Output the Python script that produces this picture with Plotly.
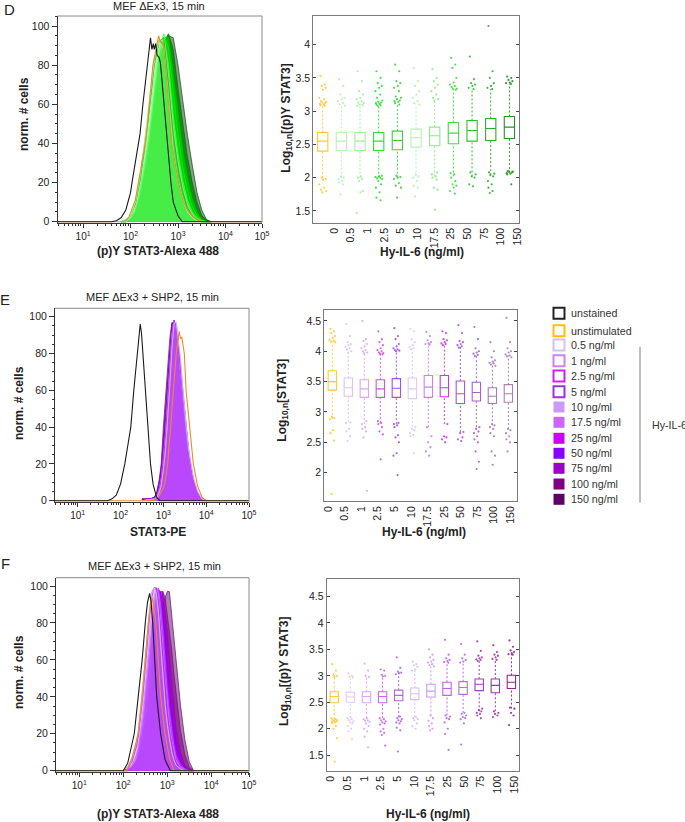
import numpy as np
import plotly.graph_objects as go

W, H = 685, 822
DOSES = ["0.5", "1", "2.5", "5", "10", "17.5", "25", "50", "75", "100", "150"]
TICK_LABELS = ["0"] + DOSES

# ---- histograms: x = log10 intensity, y = norm. # cells
D_BLACK_X = [0.46, 1.6, 1.7, 1.8, 1.9, 2.0, 2.03, 2.1, 2.17, 2.2, 2.26, 2.3, 2.35, 2.4, 2.42, 2.45, 2.48, 2.5, 2.53, 2.56, 2.6, 2.63, 2.66, 2.71, 2.77, 2.85, 2.9, 3.0, 3.09, 3.2, 4.77]
D_BLACK_Y = [0, 0, 0.5, 2, 6, 15, 20, 30, 40, 45, 60, 68, 80, 90, 94, 88, 91, 88, 91, 85, 84, 81, 72, 60, 40, 20, 10, 3, 0, 0, 0]
D_ORANGE_X = [0.46, 1.8, 1.9, 1.96, 2.1, 2.17, 2.25, 2.31, 2.36, 2.4, 2.47, 2.52, 2.55, 2.59, 2.63, 2.69, 2.75, 2.8, 2.87, 2.95, 3.01, 3.1, 3.2, 3.3, 3.4, 3.5, 4.77]
D_ORANGE_Y = [0, 0, 0.5, 2, 11, 20, 31, 40, 50, 60, 80, 86, 90, 95, 92, 90, 75, 60, 40, 28, 20, 11, 6, 3, 1, 0, 0]
D_GRID = [1.8, 1.9, 2.0, 2.1, 2.2, 2.3, 2.4, 2.5, 2.6, 2.7, 2.8, 2.9, 3.0, 3.1, 3.2, 3.3, 3.4, 3.5, 3.6, 3.7]
D_CURVES = [
    [0, 1, 3, 10, 24, 42, 63, 84, 92, 88, 62, 36, 21, 11, 5, 2, 0.5, 0, 0, 0],
    [0, 1, 3, 10, 23, 41, 62, 83, 93, 89, 64, 38, 22, 12, 5, 2, 0.5, 0, 0, 0],
    [0, 1, 3, 9, 22, 40, 60, 82, 93, 91, 66, 40, 24, 13, 6, 2, 1, 0, 0, 0],
    [0, 1, 3, 9, 21, 38, 58, 80, 92, 94, 70, 44, 27, 15, 7, 3, 1, 0, 0, 0],
    [0, 0, 2, 8, 20, 36, 55, 78, 91, 95, 75, 49, 31, 18, 9, 4, 1, 0, 0, 0],
    [0, 0, 2, 7, 18, 34, 52, 74, 90, 96, 80, 54, 35, 21, 11, 5, 2, 0.5, 0, 0],
    [0, 0, 2, 6, 16, 30, 47, 68, 87, 96, 89, 66, 45, 28, 16, 8, 3, 1, 0, 0],
    [0, 0, 2, 5, 14, 27, 43, 63, 84, 94, 94, 75, 54, 36, 22, 12, 5, 1, 0, 0],
    [0, 0, 1, 5, 12, 24, 39, 58, 80, 92, 96, 83, 62, 44, 28, 16, 7, 2, 0, 0],
    [0, 0, 1, 4, 11, 22, 36, 54, 76, 91, 96, 88, 68, 50, 33, 20, 10, 3, 1, 0],
    [0, 0, 1, 4, 10, 20, 33, 49, 72, 90, 95, 94, 80, 62, 44, 29, 15, 6, 1, 0],
]

E_BLACK_X = [0.47, 1.7, 1.8, 1.9, 2.0, 2.1, 2.17, 2.24, 2.31, 2.39, 2.43, 2.46, 2.49, 2.52, 2.58, 2.64, 2.7, 2.76, 2.84, 2.92, 5.0]
E_BLACK_Y = [0, 0, 1, 3, 9, 20, 30, 40, 60, 80, 92, 96, 91, 80, 60, 40, 20, 9, 2, 0, 0]
E_ORANGE_X = [0.47, 2.7, 2.85, 3.0, 3.04, 3.1, 3.17, 3.23, 3.3, 3.37, 3.4, 3.43, 3.49, 3.53, 3.61, 3.7, 3.8, 3.9, 4.0, 5.0]
E_ORANGE_Y = [0, 0, 0.5, 7, 10, 20, 40, 60, 80, 92, 88, 89, 80, 60, 40, 20, 8, 2, 0, 0]
E_GRID = [2.5, 2.7, 2.8, 2.85, 2.9, 2.95, 3.0, 3.05, 3.1, 3.15, 3.2, 3.25, 3.3, 3.35, 3.4, 3.45, 3.5, 3.55, 3.6, 3.7, 3.8, 3.9, 4.0]
E_CURVES = [
    [0, 0.5, 1, 2, 4, 8, 16, 27, 42, 62, 82, 96, 97, 88, 78, 63, 49, 37, 27, 13, 5, 1, 0],
    [0, 0.5, 1, 2, 5, 9, 18, 29, 45, 65, 84, 97, 97, 87, 76, 61, 47, 35, 26, 12, 5, 1, 0],
    [0, 0.5, 1, 3, 5, 10, 19, 31, 48, 67, 86, 97, 96, 86, 74, 60, 46, 35, 25, 12, 4, 1, 0],
    [0, 0.5, 1, 3, 6, 11, 21, 34, 52, 71, 89, 98, 95, 84, 72, 58, 45, 34, 24, 11, 4, 1, 0],
    [0, 0.5, 1, 3, 6, 12, 22, 36, 54, 72, 90, 98, 94, 83, 71, 57, 44, 33, 23, 11, 4, 1, 0],
    [0, 0.5, 1, 3, 6, 12, 23, 37, 55, 74, 91, 98, 94, 83, 72, 58, 45, 34, 24, 11, 4, 1, 0],
    [0, 0.5, 1, 3, 6, 12, 23, 36, 54, 73, 90, 98, 95, 84, 73, 59, 46, 35, 25, 12, 4, 1, 0],
    [0.5, 1, 2, 4, 8, 15, 28, 43, 60, 79, 93, 98, 92, 82, 70, 56, 43, 32, 23, 10, 4, 1, 0],
    [0.5, 1, 2, 4, 8, 15, 28, 44, 62, 80, 94, 98, 92, 81, 69, 55, 42, 31, 22, 10, 4, 1, 0],
    [1, 1, 2, 5, 10, 18, 34, 50, 68, 84, 96, 97, 91, 80, 68, 55, 42, 31, 21, 9, 3, 1, 0],
    [1, 1, 2, 5, 11, 20, 40, 57, 74, 88, 97, 96, 90, 80, 68, 55, 42, 31, 21, 8, 3, 1, 0],
]

F_BLACK_X = [0.47, 2.0, 2.1, 2.25, 2.34, 2.43, 2.5, 2.55, 2.6, 2.63, 2.67, 2.72, 2.76, 2.85, 2.95, 3.07, 4.86]
F_BLACK_Y = [0, 0, 4, 20, 40, 60, 80, 91, 96, 92, 80, 60, 40, 20, 6, 0, 0]
F_ORANGE_X = [0.47, 2.08, 2.2, 2.34, 2.43, 2.5, 2.57, 2.65, 2.69, 2.74, 2.8, 2.85, 2.95, 3.05, 3.15, 4.86]
F_ORANGE_Y = [0, 0, 7, 20, 40, 60, 80, 94, 90, 80, 60, 40, 20, 7, 0, 0]
F_GRID = [2.0, 2.1, 2.2, 2.3, 2.35, 2.4, 2.45, 2.5, 2.55, 2.6, 2.65, 2.7, 2.75, 2.8, 2.85, 2.9, 2.95, 3.0, 3.05, 3.1, 3.15, 3.2, 3.3, 3.4, 3.5, 3.6]
F_CURVES = [
    [0.5, 2, 7, 16, 24, 35, 48, 62, 76, 88, 96, 99, 96, 85, 68, 50, 36, 25, 16, 10, 6, 3, 1, 0, 0, 0],
    [0.5, 2, 6, 15, 23, 33, 46, 60, 75, 88, 97, 99, 97, 87, 70, 52, 38, 27, 17, 11, 6, 3, 1, 0, 0, 0],
    [0.5, 2, 6, 14, 22, 32, 45, 59, 74, 86, 96, 99, 98, 89, 73, 55, 40, 28, 18, 12, 7, 4, 1, 0, 0, 0],
    [0, 1, 5, 13, 20, 30, 42, 56, 71, 84, 94, 99, 99, 92, 77, 60, 44, 31, 21, 14, 8, 4, 1, 0.5, 0, 0],
    [0, 1, 4, 11, 18, 27, 38, 52, 66, 80, 91, 97, 99, 96, 84, 68, 51, 37, 26, 17, 11, 6, 2, 0.5, 0, 0],
    [0, 1, 3, 9, 15, 23, 33, 46, 60, 74, 86, 94, 99, 98, 90, 76, 59, 44, 32, 22, 14, 8, 3, 1, 0, 0],
    [0, 0.5, 3, 8, 13, 20, 29, 41, 54, 68, 81, 91, 97, 99, 94, 82, 66, 51, 37, 26, 17, 11, 4, 1, 0, 0],
    [0, 0.5, 2, 6, 11, 17, 25, 36, 48, 62, 75, 86, 94, 98, 97, 88, 74, 58, 44, 32, 22, 14, 5, 2, 0, 0],
    [0, 0, 2, 5, 8, 12, 18, 25, 34, 45, 58, 70, 82, 91, 97, 97, 88, 76, 62, 48, 35, 24, 10, 3, 1, 0],
    [0, 0, 1, 4, 6, 9, 13, 18, 24, 32, 43, 56, 68, 80, 90, 97, 94, 85, 78, 66, 53, 42, 22, 9, 2, 0],
    [0, 0, 1, 3, 4, 6, 8, 11, 14, 18, 23, 32, 43, 54, 68, 90, 94, 97, 97, 85, 76, 60, 36, 17, 5, 0],
]

# ---- box panels
D_Q1 = [2.40, 2.41, 2.41, 2.41, 2.42, 2.46, 2.48, 2.51, 2.55, 2.56, 2.59]
D_MED = [2.55, 2.55, 2.55, 2.55, 2.56, 2.60, 2.63, 2.67, 2.71, 2.74, 2.76]
D_Q3 = [2.68, 2.68, 2.68, 2.68, 2.70, 2.73, 2.76, 2.83, 2.86, 2.89, 2.92]
D_HI = [3.10, 3.08, 3.08, 3.08, 3.10, 3.10, 3.16, 3.32, 3.33, 3.33, 3.41]
D_LO = [2.00, 2.00, 2.00, 2.00, 2.00, 2.02, 2.02, 2.02, 2.02, 2.04, 2.07]
D_OUT = [
    [3.53, 3.4, 3.38, 3.35, 3.32, 3.2, 3.18, 3.15, 3.14, 3.13, 3.12, 3.11, 3.1, 3.09, 3.08, 2.0, 1.98, 1.97, 1.9, 1.85, 1.82, 1.8, 1.78],
    [3.48, 3.38, 3.25, 3.2, 3.18, 3.15, 3.12, 3.1, 3.08, 2.02, 2.0, 1.98, 1.95, 1.93, 1.9, 1.75],
    [3.6, 3.45, 3.3, 3.25, 3.2, 3.18, 3.15, 3.13, 3.12, 3.1, 3.09, 3.08, 2.02, 2.0, 1.98, 1.95, 1.8, 1.78, 1.47],
    [3.6, 3.5, 3.42, 3.38, 3.35, 3.3, 3.25, 3.2, 3.16, 3.14, 3.13, 3.12, 3.11, 3.1, 3.09, 3.08, 2.03, 2.02, 2.01, 2.0, 1.99, 1.98, 1.95, 1.9, 1.85, 1.78, 1.7, 1.66],
    [3.7, 3.6, 3.45, 3.42, 3.38, 3.35, 3.3, 3.22, 3.2, 3.18, 3.16, 3.15, 3.14, 3.12, 3.1, 2.03, 2.01, 2.0, 1.98, 1.92, 1.88, 1.85, 1.7],
    [3.65, 3.45, 3.38, 3.3, 3.25, 3.2, 3.15, 3.12, 3.1, 2.05, 2.02, 2.0, 1.95, 1.88, 1.85, 1.72],
    [3.63, 3.5, 3.45, 3.4, 3.35, 3.3, 3.25, 3.2, 3.18, 3.16, 2.08, 2.05, 2.02, 2.0, 1.97, 1.85, 1.82, 1.52],
    [3.8, 3.7, 3.65, 3.5, 3.43, 3.4, 3.38, 3.36, 3.34, 3.33, 3.32, 2.07, 2.05, 2.0, 1.95, 1.9, 1.88, 1.85, 1.8, 1.76],
    [3.82, 3.48, 3.42, 3.4, 3.38, 3.35, 3.33, 2.08, 2.05, 2.02, 2.0, 1.9, 1.87],
    [4.28, 3.6, 3.5, 3.42, 3.38, 3.35, 3.33, 2.08, 2.06, 2.04, 2.02, 1.95, 1.9, 1.85, 1.8, 1.77],
    [3.52, 3.5, 3.47, 3.45, 3.43, 3.42, 3.41, 2.1, 2.09, 2.09, 2.08, 2.07, 2.06, 2.05, 1.9],
]

E_Q1 = [3.36, 3.26, 3.24, 3.24, 3.24, 3.22, 3.24, 3.25, 3.14, 3.18, 3.14, 3.16]
E_MED = [3.50, 3.40, 3.38, 3.38, 3.39, 3.38, 3.41, 3.40, 3.30, 3.32, 3.26, 3.30]
E_Q3 = [3.68, 3.56, 3.53, 3.53, 3.55, 3.56, 3.60, 3.60, 3.51, 3.49, 3.40, 3.45]
E_HI = [4.16, 4.00, 3.98, 3.96, 4.02, 4.03, 4.12, 4.12, 4.08, 3.94, 3.80, 3.93]
E_LO = [2.88, 2.83, 2.80, 2.82, 2.80, 2.75, 2.75, 2.80, 2.67, 2.75, 2.78, 2.72]
E_OUT = [
    [4.37, 4.33, 4.3, 4.25, 4.22, 4.19, 4.17, 4.16, 4.15, 2.92, 2.9, 2.88, 2.7, 2.65, 2.53, 1.65],
    [4.45, 4.25, 4.15, 4.12, 4.1, 4.07, 4.05, 4.03, 4.0, 3.98, 2.83, 2.82, 2.72, 2.68, 2.6, 2.52],
    [4.5, 4.2, 4.17, 4.12, 4.08, 4.05, 4.02, 4.0, 3.98, 3.97, 2.85, 2.8, 2.75, 2.72, 2.68, 2.58, 1.7],
    [4.33, 4.2, 4.15, 4.1, 4.05, 4.02, 4.0, 3.98, 3.97, 3.96, 3.95, 2.85, 2.82, 2.8, 2.75, 2.68, 2.63, 2.22],
    [4.38, 4.25, 4.2, 4.12, 4.08, 4.05, 4.03, 4.02, 4.01, 4.0, 2.82, 2.8, 2.78, 2.75, 2.62, 2.58, 2.5, 2.32, 2.28, 1.96],
    [4.37, 4.33, 4.2, 4.15, 4.1, 4.07, 4.05, 4.03, 2.75, 2.72, 2.7, 2.65, 2.62, 2.6, 2.32],
    [4.32, 4.25, 4.18, 4.15, 4.13, 4.12, 4.11, 2.75, 2.6, 2.5, 2.42, 2.35, 2.28],
    [4.33, 4.3, 4.2, 4.18, 4.15, 4.13, 4.12, 4.1, 2.8, 2.6, 2.58, 2.55, 2.5],
    [4.43, 4.3, 4.17, 4.15, 4.12, 4.1, 4.08, 4.06, 2.67, 2.65, 2.58, 2.55, 2.52],
    [4.4, 4.2, 4.05, 4.0, 3.98, 3.96, 3.94, 3.92, 2.75, 2.72, 2.68, 2.65, 2.6, 2.55, 2.5, 2.35, 2.18, 2.06],
    [4.15, 4.0, 3.9, 3.85, 3.83, 3.81, 3.8, 3.78, 3.76, 2.8, 2.78, 2.75, 2.72, 2.65, 2.6, 2.35, 2.28, 2.13],
    [4.55, 4.15, 4.05, 4.0, 3.98, 3.95, 3.93, 3.92, 3.9, 2.72, 2.7, 2.65, 2.6, 2.55, 2.5, 2.35],
]

F_Q1 = [2.49, 2.50, 2.49, 2.49, 2.53, 2.55, 2.60, 2.63, 2.65, 2.72, 2.68, 2.76]
F_MED = [2.61, 2.60, 2.61, 2.61, 2.63, 2.66, 2.71, 2.76, 2.78, 2.84, 2.82, 2.88]
F_Q3 = [2.70, 2.69, 2.70, 2.70, 2.73, 2.77, 2.84, 2.88, 2.89, 2.94, 2.94, 3.01]
F_HI = [3.02, 2.98, 3.00, 3.00, 3.05, 3.12, 3.20, 3.26, 3.27, 3.30, 3.32, 3.41]
F_LO = [2.18, 2.20, 2.20, 2.20, 2.22, 2.22, 2.25, 2.25, 2.30, 2.33, 2.33, 2.38]
F_OUT = [
    [3.22, 3.1, 3.02, 3.0, 2.98, 2.2, 2.18, 2.17, 2.16, 2.15, 2.14, 2.13, 2.12, 2.1, 2.05, 2.0, 1.82, 1.38],
    [3.05, 3.0, 2.98, 2.97, 2.22, 2.2, 2.18, 2.16, 2.14, 2.12, 2.1, 2.05, 2.0, 1.95, 1.8],
    [3.23, 3.1, 3.0, 2.98, 2.2, 2.18, 2.16, 2.15, 2.13, 2.1, 2.05, 2.0, 1.95, 1.85, 1.65],
    [3.12, 3.1, 3.02, 3.0, 2.99, 2.2, 2.18, 2.16, 2.14, 2.12, 2.1, 2.08, 2.0, 1.95, 1.92, 1.88, 1.68],
    [3.35, 3.15, 3.08, 3.06, 3.05, 3.03, 2.23, 2.2, 2.18, 2.16, 2.14, 2.12, 2.1, 2.02, 1.97, 1.57],
    [3.27, 3.22, 3.2, 3.17, 3.12, 3.1, 2.22, 2.2, 2.18, 2.16, 2.1, 2.05, 2.0],
    [3.5, 3.4, 3.35, 3.3, 3.27, 3.25, 3.22, 3.2, 3.18, 2.25, 2.2, 2.15, 2.1, 2.05, 2.0, 1.97],
    [3.68, 3.4, 3.33, 3.3, 3.28, 3.26, 3.25, 2.25, 2.23, 2.2, 2.18, 2.12, 2.0, 1.9, 1.6],
    [3.6, 3.4, 3.33, 3.3, 3.27, 3.25, 2.3, 2.28, 2.25, 2.22, 2.2, 2.18, 2.1, 1.7],
    [3.65, 3.47, 3.38, 3.35, 3.33, 3.31, 3.3, 3.28, 2.38, 2.35, 2.33, 2.3, 2.28, 2.25, 2.2],
    [3.58, 3.45, 3.4, 3.38, 3.35, 3.32, 3.3, 2.33, 2.3, 2.28, 2.25, 2.22],
    [3.67, 3.55, 3.48, 3.45, 3.43, 3.41, 3.4, 2.4, 2.38, 2.3, 2.25, 2.07],
]

JITTER = [-0.12, 0.1, -0.05, 0.16, 0.02, -0.18, 0.08, -0.09, 0.19, -0.02, 0.13, -0.15, 0.05]

YELLOW = "#ffc933"
D_HIST_COL = ["#b0f0b0", "#80e880", "#22dd22", "#22aa22", "#99ff99", "#66ff66", "#00ff00", "#00cc00", "#009900", "#006600", "#004400"]
P_HIST_COL = ["#d5c0f0", "#d080f0", "#cc22ee", "#9933dd", "#cc99ff", "#cc66ff", "#cc00ff", "#8800ff", "#9900cc", "#800080", "#5c0066"]
D_BOX_COL = [YELLOW, "#b6f2b6", "#a0eea0", "#33dd33", "#44cc44", "#b8f0b8", "#8ee88e", "#44dd44", "#33bb33", "#33aa33", "#2a8f2a"]
E_BOX_COL = [YELLOW, "#d9c2f5", "#d8a8f0", "#d54ff0", "#a050e8", "#e0c8f8", "#c880f0", "#cc33ee", "#a855d8", "#a860c8", "#a878b8", "#b080b0"]
F_BOX_COL = [YELLOW, "#e0ccf8", "#d9a8f4", "#cc66ee", "#b266e0", "#d6c0f0", "#c8a0f0", "#c060e8", "#b070e0", "#a040b8", "#983a9f", "#8a2a8a"]

LEGEND_LABELS = ["unstained", "unstimulated"] + [d + " ng/ml" for d in DOSES]
LEGEND_COL = ["#222222", "#ffc000"] + P_HIST_COL

FONT = "Liberation Sans"
INK = "#222222"
# fill strength for the filled doses 10..150, low ones let the strong colour under them show
FILL_ALPHA = {4: 0.3, 5: 0.35, 6: 0.35, 7: 0.85, 8: 0.7, 9: 0.6, 10: 0.5}
fig = go.Figure()
shapes, notes = [], []


def rgba(col, a):
    return f"rgba({int(col[1:3], 16)},{int(col[3:5], 16)},{int(col[5:7], 16)},{a})"


def note(x, y, text, size=11, bold=False, angle=0, anchor="center", color=INK):
    if bold:
        text = f"<b>{text}</b>"
    notes.append(dict(x=x, y=y, xref="x7", yref="y7", text=text, showarrow=False,
                      xanchor=anchor, yanchor="middle", textangle=angle, font=dict(size=size, color=color)))


def hist_panel(n, box, xrange, lastpos, grid, curves, colors, bx, by, ox, oy):
    left, right, top, bottom = box
    key = "" if n == 1 else str(n)
    xa, ya = "x" + key, "y" + key
    # dark doses go first so the lighter ones sit on top
    for i in range(len(curves) - 1, 3, -1):
        fig.add_trace(go.Scatter(x=grid, y=curves[i], xaxis=xa, yaxis=ya, mode="lines", fill="tozeroy",
                                 fillcolor=rgba(colors[i], FILL_ALPHA[i]), showlegend=False, name=DOSES[i] + " ng/ml",
                                 line=dict(color=rgba(colors[i], 0.8), width=0.8)))
    for i in range(3, -1, -1):
        fig.add_trace(go.Scatter(x=grid, y=curves[i], xaxis=xa, yaxis=ya, mode="lines", showlegend=False,
                                 name=DOSES[i] + " ng/ml", line=dict(color=colors[i], width=0.8)))
    fig.add_trace(go.Scatter(x=ox, y=oy, xaxis=xa, yaxis=ya, mode="lines", showlegend=False, name="unstimulated",
                             line=dict(color="#f08a24", width=1.1)))
    fig.add_trace(go.Scatter(x=bx, y=by, xaxis=xa, yaxis=ya, mode="lines", showlegend=False, name="unstained",
                             line=dict(color="#1a1a1a", width=1.1)))
    minor = [d + np.log10(k) for d in range(0, 5) for k in range(2, 10) if xrange[0] < d + np.log10(k) < xrange[1]]
    layout[f"xaxis{key}"] = dict(domain=[left / W, right / W], range=xrange, anchor=ya, showgrid=False, zeroline=False,
                                 showline=True, linecolor="#333333", linewidth=1, ticks="outside", ticklen=4,
                                 tickcolor="#333333", tickmode="array", tickvals=[1, 2, 3, 4, lastpos],
                                 ticktext=[f"10<sup>{k}</sup>" for k in range(1, 6)], tickfont=dict(size=10, color=INK),
                                 minor=dict(tickmode="array", tickvals=minor, ticks="outside", ticklen=2, tickcolor="#333333"))
    yr = [-(bottom - by_zero[n]) / by_unit[n], (by_zero[n] - top) / by_unit[n]]
    layout[f"yaxis{key}"] = dict(domain=[1 - bottom / H, 1 - top / H], range=yr, anchor=xa, showgrid=False, zeroline=False,
                                 showline=True, linecolor="#333333", linewidth=1, ticks="outside", ticklen=5,
                                 tickcolor="#333333", tickvals=[0, 20, 40, 60, 80, 100], tickfont=dict(size=10.5, color=INK),
                                 minor=dict(dtick=5, ticks="outside", ticklen=2, tickcolor="#333333"))
    for s in [dict(x0=0, x1=1, y0=1, y1=1), dict(x0=1, x1=1, y0=0, y1=1)]:
        shapes.append(dict(type="line", xref=f"{xa} domain", yref=f"{ya} domain", line=dict(color="#8a8a8a", width=1), **s))


def box_panel(n, box, xrange, yrange, q1, med, q3, lo, hi, out, colors, width, tick_start, tick_step, yticks, ytext):
    left, right, top, bottom = box
    xa, ya = f"x{n}", f"y{n}"
    for i in range(len(q1)):
        fig.add_trace(go.Scatter(x=[i, i, None, i, i], y=[lo[i], q1[i], None, q3[i], hi[i]], xaxis=xa, yaxis=ya, mode="lines",
                                 showlegend=False, line=dict(color=colors[i], width=1, dash="2px,2px"), hoverinfo="skip"))
        xs = [i + JITTER[k % len(JITTER)] for k in range(len(out[i]))]
        fig.add_trace(go.Scatter(x=xs, y=out[i], xaxis=xa, yaxis=ya, mode="markers", showlegend=False,
                                 marker=dict(size=2.2, color=colors[i], opacity=0.9, line=dict(width=0))))
        fig.add_trace(go.Box(x=[i], q1=[q1[i]], median=[med[i]], q3=[q3[i]], lowerfence=[q1[i]], upperfence=[q3[i]],
                             xaxis=xa, yaxis=ya, width=width, whiskerwidth=0, showlegend=False, boxpoints=False,
                             fillcolor="rgba(0,0,0,0)", line=dict(color=colors[i], width=1.1)))
    key = str(n)
    layout[f"xaxis{key}"] = dict(domain=[left / W, right / W], range=xrange, anchor=ya, showgrid=False, zeroline=False,
                                 showline=True, mirror=True, linecolor="#7a7a7a", linewidth=1, ticks="", tickmode="array",
                                 tickvals=[tick_start + tick_step * k for k in range(12)], ticktext=TICK_LABELS,
                                 tickangle=-90, tickfont=dict(size=10.5, color=INK))
    layout[f"yaxis{key}"] = dict(domain=[1 - bottom / H, 1 - top / H], range=yrange, anchor=xa, showgrid=False, zeroline=False,
                                 showline=True, mirror="ticks", linecolor="#7a7a7a", linewidth=1, ticks="inside", ticklen=3,
                                 tickcolor="#444444", tickmode="array", tickvals=yticks, ticktext=ytext,
                                 tickfont=dict(size=10.5, color=INK))


# autoexpand off: text near the page edge was pushing the margins and shrinking everything
layout = dict(width=W, height=H, margin=dict(l=0, r=0, t=0, b=0, autoexpand=False), paper_bgcolor="white",
              plot_bgcolor="rgba(0,0,0,0)", font=dict(family=FONT, color=INK), showlegend=False,
              xaxis7=dict(domain=[0, 1], range=[0, W], anchor="y7", visible=False, fixedrange=True),
              yaxis7=dict(domain=[0, 1], range=[H, 0], anchor="x7", visible=False, fixedrange=True))
fig.add_trace(go.Scatter(x=[None], y=[None], xaxis="x7", yaxis="y7", showlegend=False, hoverinfo="skip"))

# pixel rows of y=0 and px per y unit for the three histograms
by_zero = {1: 221.7, 3: 500.7, 5: 770.7}
by_unit = {1: 1.957, 3: 1.84, 5: 1.847}

hist_panel(1, (57.5, 262, 16, 222.7), [0.46, 4.77], 4.77, D_GRID, D_CURVES, D_HIST_COL, D_BLACK_X, D_BLACK_Y, D_ORANGE_X, D_ORANGE_Y)
box_panel(2, (313.3, 519.3, 16, 222.7), [-0.503, 10.53], [1.324, 4.43], D_Q1, D_MED, D_Q3, D_LO, D_HI, D_OUT, D_BOX_COL,
          0.55, 0.62, 0.893, [1.5, 2, 2.5, 3, 3.5, 4], ["1.5", "2", "2.5", "3", "3.5", "4"])
hist_panel(3, (55, 249, 308.3, 501.7), [0.47, 5.0], 5.0, E_GRID, E_CURVES, P_HIST_COL, E_BLACK_X, E_BLACK_Y, E_ORANGE_X, E_ORANGE_Y)
box_panel(4, (324.3, 516.7, 310, 501), [-0.5, 11.52], [1.533, 4.68], E_Q1, E_MED, E_Q3, E_LO, E_HI, E_OUT, E_BOX_COL,
          0.52, -0.25, 1.035, [2, 2.5, 3, 3.5, 4, 4.5], ["2", "2.5", "3", "3.5", "4", "4.5"])
hist_panel(5, (56, 249, 577.7, 771.7), [0.47, 4.86], 4.86, F_GRID, F_CURVES, P_HIST_COL, F_BLACK_X, F_BLACK_Y, F_ORANGE_X, F_ORANGE_Y)
box_panel(6, (326.7, 519.3, 579, 770.7), [-0.47, 11.49], [1.207, 4.83], F_Q1, F_MED, F_Q3, F_LO, F_HI, F_OUT, F_BOX_COL,
          0.52, -0.2, 1.035, [1.5, 2, 2.5, 3, 3.5, 4, 4.5], ["1.5", "2", "2.5", "3", "3.5", "4", "4.5"])

# panel letters, titles, axis titles
note(9, 9, "D", size=15)
note(5, 299, "E", size=15)
note(5, 563, "F", size=15)
note(159.3, 5.5, "MEF ΔEx3, 15 min", size=11)
note(152.7, 296.7, "MEF ΔEx3 + SHP2, 15 min", size=11)
note(154.3, 565.7, "MEF ΔEx3 + SHP2, 15 min", size=11)
note(24, 114, "norm. # cells", size=12, bold=True, angle=-90)
note(18.3, 402.7, "norm. # cells", size=12, bold=True, angle=-90)
note(18.3, 671.7, "norm. # cells", size=12, bold=True, angle=-90)
note(158, 251, "(p)Y STAT3-Alexa 488", size=12, bold=True)
note(158, 532, "STAT3-PE", size=12, bold=True)
note(158, 814, "(p)Y STAT3-Alexa 488", size=12, bold=True)
note(421.7, 251.7, "Hy-IL-6 (ng/ml)", size=12, bold=True)
note(424, 532, "Hy-IL-6 (ng/ml)", size=12, bold=True)
note(427.7, 814, "Hy-IL-6 (ng/ml)", size=12, bold=True)
note(286.7, 118, "Log<sub>10,n</sub>[(p)Y STAT3]", size=12, bold=True, angle=-90)
note(282.7, 400, "Log<sub>10,n</sub>[STAT3]", size=12, bold=True, angle=-90)
note(285, 672, "Log<sub>10,n</sub>[(p)Y STAT3]", size=12, bold=True, angle=-90)

# hand-placed legend, squares open for the first six entries
LEG_Y = [313.3, 330.7, 345, 360.7, 376, 391.7, 407, 422.3, 438.3, 453.3, 468.3, 484, 499.3]
for i, (lab, col, y) in enumerate(zip(LEGEND_LABELS, LEGEND_COL, LEG_Y)):
    hollow = i < 6
    shapes.append(dict(type="rect", xref="paper", yref="paper", x0=553.5 / W, x1=564.5 / W,
                       y0=1 - (y + 5.5) / H, y1=1 - (y - 5.5) / H, fillcolor="white" if hollow else col,
                       line=dict(color=col, width=2 if hollow else 0)))
    note(569, y, lab, size=10.7, anchor="left", color="#333333")
shapes.append(dict(type="line", xref="paper", yref="paper", x0=640 / W, x1=640 / W, y0=1 - 502.7 / H, y1=1 - 346.7 / H,
                   line=dict(color="#808080", width=1)))
note(649.5, 425, "Hy-IL-6", size=10.7, anchor="left", color="#333333")

layout["shapes"] = shapes
layout["annotations"] = notes
fig.update_layout(**layout)
# browser default body margin would push everything 8px down and right
fig.write_html("out.html", config={"displayModeBar": False}, post_script="document.body.style.margin='0';")
